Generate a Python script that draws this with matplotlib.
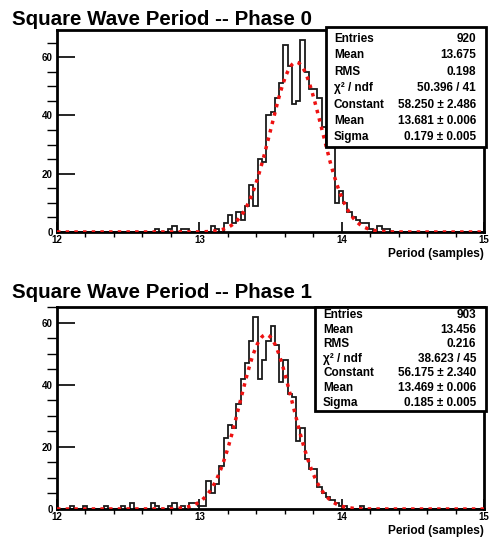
import numpy as np
import matplotlib.pyplot as plt
from matplotlib.patches import Rectangle
from matplotlib.ticker import MultipleLocator

plt.rcParams['font.family'] = ['Liberation Sans', 'DejaVu Sans']
plt.rcParams['font.weight'] = 'bold'

edges = np.linspace(12, 15, 101)

# bin contents, 100 bins of 0.03 samples
phase0 = [0, 0, 0, 0, 0, 0, 0, 0, 0, 0,
          0, 0, 0, 0, 0, 0, 0, 0, 0, 0,
          0, 0, 0, 1, 0, 0, 1, 2, 0, 1,
          1, 0, 0, 0, 0, 0, 2, 1, 0, 3,
          6, 3, 7, 4, 9, 16, 9, 25, 24, 40,
          41, 46, 51, 64, 57, 44, 45, 66, 55, 49,
          49, 46, 36, 29, 32, 10, 14, 10, 7, 5,
          4, 3, 3, 1, 0, 2, 1, 1, 0, 0,
          0, 0, 0, 0, 0, 0, 0, 0, 0, 0,
          0, 0, 0, 0, 0, 0, 0, 0, 0, 0]
phase1 = [0, 0, 0, 1, 0, 0, 1, 0, 0, 0,
          0, 1, 0, 0, 0, 1, 0, 2, 0, 0,
          0, 0, 2, 1, 0, 0, 1, 2, 0, 1,
          0, 2, 2, 1, 1, 9, 5, 8, 14, 23,
          27, 26, 34, 42, 47, 54, 62, 42, 48, 54,
          59, 53, 41, 48, 37, 36, 22, 26, 16, 13,
          13, 7, 5, 4, 3, 2, 1, 1, 0, 0,
          0, 1, 0, 0, 0, 0, 0, 0, 0, 0,
          0, 0, 0, 0, 0, 0, 0, 0, 0, 0,
          0, 0, 0, 0, 0, 0, 0, 0, 0, 0]

# gaussian fit parameters (constant, mean, sigma)
fit0 = (58.250, 13.681, 0.179)
fit1 = (56.175, 13.469, 0.185)

stat_labels = ['Entries', 'Mean', 'RMS', 'χ² / ndf', 'Constant', 'Mean', 'Sigma']
stats0 = ['920', '13.675', '0.198', '50.396 / 41',
          '58.250 ± 2.486', '13.681 ± 0.006', '0.179 ± 0.005']
stats1 = ['903', '13.456', '0.216', '38.623 / 45',
          '56.175 ± 2.340', '13.469 ± 0.006', '0.185 ± 0.005']

W, H = 490, 540
fig = plt.figure(figsize=(W / 100, H / 100), dpi=100)


def fx(x):
    return x / W


def fy(y):
    return 1 - y / H


def panel(top, bottom, counts, fit, title, title_y, box, vals):
    ax = fig.add_axes([fx(57), fy(bottom), fx(484) - fx(57), fy(top) - fy(bottom)])
    ax.stairs(counts, edges, color='#1a1a1a', lw=1.3, zorder=2)
    xs = np.linspace(12, 15, 600)
    c, m, s = fit
    ax.plot(xs, c * np.exp(-0.5 * ((xs - m) / s) ** 2), color='#ee1111',
            lw=2.5, ls=(0, (1, 1.5)), zorder=3)
    ax.set_xlim(12, 15)
    ax.set_ylim(0, 1.05 * max(counts))
    ax.set_xticks([12, 13, 14, 15])
    ax.set_yticks([0, 20, 40, 60])
    ax.xaxis.set_minor_locator(MultipleLocator(0.2))
    ax.yaxis.set_minor_locator(MultipleLocator(5))
    ax.tick_params(direction='in', top=False, right=False, labelsize=7, colors='black')
    ax.tick_params(axis='y', which='major', length=13, width=1.2, pad=3)
    ax.tick_params(axis='y', which='minor', length=7, width=1.0)
    ax.tick_params(axis='x', which='major', length=7, width=1.2, pad=2)
    ax.tick_params(axis='x', which='minor', length=3.5, width=1.0)
    for lab in ax.get_xticklabels() + ax.get_yticklabels():
        lab.set_fontweight('bold')
    for sp in ax.spines.values():
        sp.set_linewidth(2)
    fig.text(fx(484), fy(bottom + 22), 'Period (samples)', ha='right', va='center',
             fontsize=8.6, fontweight='bold')
    fig.text(fx(12), fy(title_y), title, ha='left', va='baseline',
             fontsize=14.8, fontweight='bold')

    x0, y0, x1, y1, row0, step = box
    fig.patches.append(Rectangle((fx(x0), fy(y1)), fx(x1) - fx(x0), fy(y0) - fy(y1),
                                 transform=fig.transFigure, facecolor='white',
                                 edgecolor='black', lw=2, zorder=5))
    for i, (lab, val) in enumerate(zip(stat_labels, vals)):
        y = fy(row0 + i * step)
        fig.text(fx(x0 + 8), y, lab, ha='left', va='center', fontsize=8.5,
                 fontweight='bold', zorder=6)
        fig.text(fx(x1 - 10), y, val, ha='right', va='center', fontsize=8.5,
                 fontweight='bold', zorder=6)
    return ax


panel(30, 232, phase0, fit0, 'Square Wave Period -- Phase 0', 25,
      (326, 27, 486, 147, 39, 16.4), stats0)
panel(307, 509, phase1, fit1, 'Square Wave Period -- Phase 1', 298,
      (315, 307, 486, 411, 315, 14.6), stats1)

fig.savefig('out.png', dpi=100)
